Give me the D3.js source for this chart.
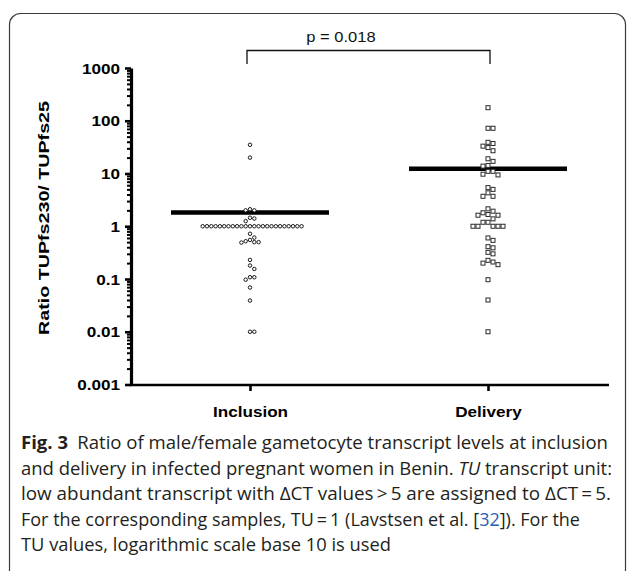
<!DOCTYPE html>
<html>
<head>
<meta charset="utf-8">
<script src="https://cdn.jsdelivr.net/npm/d3@7/dist/d3.min.js"></script>
<style>
  html, body { margin: 0; padding: 0; background: #fff; }
  svg { display: block; }
</style>
</head>
<body>
<svg id="chart" width="629" height="571"></svg>
<script>
// ---------------- DATA ----------------
const categories = ["Inclusion", "Delivery"];

const inclusionValues = [
  35, 20,
  2.1, 2.0, 2.0,
  1.45, 1.4, 1.25,
  1, 1, 1, 1, 1, 1, 1, 1, 1, 1, 1, 1, 1, 1, 1, 1, 1, 1, 1, 1, 1, 1, 1, 1,
  0.72, 0.61,
  0.55, 0.52, 0.5, 0.49, 0.5,
  0.23, 0.18, 0.155,
  0.108, 0.097, 0.108,
  0.069, 0.039,
  0.01, 0.01
];

const deliveryValues = [
  177,
  72, 72,
  39, 37, 33, 31, 27,
  19, 17,
  14.2, 13.8,
  11, 11, 9.7, 9.4,
  5.4, 5.0, 4.3, 3.7, 3.7,
  2.14, 1.93, 1.8, 1.67, 1.62, 1.62, 1.38,
  1.19, 1.19,
  1, 1, 1, 1, 1,
  0.6, 0.54,
  0.41, 0.39,
  0.32, 0.30,
  0.226, 0.21, 0.2, 0.187,
  0.097, 0.04, 0.01
];

const centralValues = [1.82, 12.3];   // horizontal bar per group

const yTickValues = [0.001, 0.01, 0.1, 1, 10, 100, 1000];
const yTickLabels = ["0.001", "0.01", "0.1", "1", "10", "100", "1000"];
const yTitle = "Ratio TUPfs230/ TUPfs25";
const pLabel = "p = 0.018";

const captionLines = [
  [{t: "Fig. 3", b: true}, {t: "\u2002Ratio of male/female gametocyte transcript levels at inclusion"}],
  [{t: "and delivery in infected pregnant women in Benin. "}, {t: "TU", i: true}, {t: " transcript unit:"}],
  [{t: "low abundant transcript with \u0394CT values\u2009>\u20095 are assigned to \u0394CT\u2009=\u20095."}],
  [{t: "For the corresponding samples, TU\u2009=\u20091 (Lavstsen et al. ["}, {t: "32", blue: true}, {t: "]). For the"}],
  [{t: "TU values, logarithmic scale base 10 is used"}]
];
const captionEnds = [608, 612, 611, 580, 391];

// ---------------- LAYOUT ----------------
const svg = d3.select("#chart");
const FONT = "'Liberation Sans', Arial, Helvetica, sans-serif";
const CAPFONT = "'Open Sans', 'Noto Sans', sans-serif";
const SX = 1.18; // horizontal stretch of chart text in the original figure

// frame
svg.append("rect")
  .attr("x", 9.5).attr("y", 13.5)
  .attr("width", 616).attr("height", 620)
  .attr("rx", 11).attr("ry", 11)
  .attr("fill", "none").attr("stroke", "#3a3a3a").attr("stroke-width", 1.2);

const y = d3.scaleLog().domain([0.001, 1000]).range([384.5, 68]);
const x = d3.scalePoint().domain(categories).range([131, 607]).padding(0.5);
const axisX = 131, axisY = 385;

// y axis - minor ticks
const minorTicks = y.ticks().filter(v => Math.abs(Math.log10(v) - Math.round(Math.log10(v))) > 1e-9);
const gMinor = svg.append("g").attr("transform", `translate(${axisX},0)`)
  .call(d3.axisLeft(y).tickValues(minorTicks).tickSize(4).tickSizeOuter(0).tickFormat(""));
gMinor.select(".domain").remove();
gMinor.selectAll(".tick line").attr("stroke", "#000").attr("stroke-width", 2);

// y axis - major ticks & labels
const gY = svg.append("g").attr("transform", `translate(${axisX},0)`)
  .call(d3.axisLeft(y).tickValues(yTickValues).tickSize(6).tickSizeOuter(0)
    .tickFormat((d) => yTickLabels[yTickValues.indexOf(d)]));
gY.select(".domain").attr("stroke", "#000").attr("stroke-width", 3.2);
gY.selectAll(".tick line").attr("stroke", "#000").attr("stroke-width", 2.6);
gY.selectAll(".tick text")
  .attr("font-family", FONT).attr("font-size", 14.5).attr("font-weight", "bold")
  .attr("fill", "#000")
  .attr("x", null).attr("dy", null).attr("y", 0)
  .attr("transform", `translate(-11,5) scale(${SX},1)`);

// x axis
const gX = svg.append("g").attr("transform", `translate(0,${axisY})`)
  .call(d3.axisBottom(x).tickSize(6).tickSizeOuter(0));
gX.select(".domain").attr("stroke", "#000").attr("stroke-width", 2.6)
  .attr("d", `M${axisX - 1.5},0H609`);
gX.selectAll(".tick line").attr("stroke", "#000").attr("stroke-width", 2.6);
gX.selectAll(".tick text")
  .attr("font-family", FONT).attr("font-size", 14.5).attr("font-weight", "bold")
  .attr("fill", "#000").attr("y", 0).attr("dy", null)
  .attr("transform", `translate(0,32) scale(${SX},1)`);

// y title
svg.append("text")
  .attr("transform", `translate(49,218) rotate(-90) scale(1.27,1)`)
  .attr("text-anchor", "middle")
  .attr("font-family", FONT).attr("font-size", 15.5).attr("font-weight", "bold")
  .attr("fill", "#000")
  .text(yTitle);

// ---------------- SWARM ----------------
function swarm(values, cx, d) {
  const items = values.map((v, i) => ({ v, i, py: y(v) }));
  const order = items.slice().sort((a, b) => a.py - b.py);
  const placed = [];
  order.forEach(p => {
    let k = 0, off = 0;
    while (true) {
      const cand = k === 0 ? 0 : (k % 2 === 1 ? Math.ceil(k / 2) : -Math.ceil(k / 2)) * d;
      const hit = placed.some(q => {
        const dx = q.px - (cx + cand), dy = q.py - p.py;
        return dx * dx + dy * dy < d * d * 0.97;
      });
      if (!hit) { off = cand; break; }
      k++;
    }
    p.px = cx + off;
    placed.push(p);
  });
  return placed;
}

const incPts = swarm(inclusionValues, x("Inclusion"), 4.3);
const delPts = swarm(deliveryValues, x("Delivery"), 5);

// central bars
svg.append("g").selectAll("line").data(categories).join("line")
  .attr("x1", d => x(d) - 79).attr("x2", d => x(d) + 79)
  .attr("y1", (d, i) => y(centralValues[i])).attr("y2", (d, i) => y(centralValues[i]))
  .attr("stroke", "#000").attr("stroke-width", 4.5);

svg.append("g").selectAll("circle").data(incPts).join("circle")
  .attr("cx", d => d.px).attr("cy", d => d.py).attr("r", 1.75)
  .attr("fill", "#fff").attr("stroke", "#1a1a1a").attr("stroke-width", 1);

svg.append("g").selectAll("rect").data(delPts).join("rect")
  .attr("x", d => d.px - 2).attr("y", d => d.py - 2)
  .attr("width", 4).attr("height", 4)
  .attr("fill", "#fff").attr("stroke", "#2a2a2a").attr("stroke-width", 1);

// significance bracket
const bx1 = x("Inclusion") - 3, bx2 = x("Delivery") + 2;
svg.append("path")
  .attr("d", `M${bx1},64V50.5H${bx2}V64`)
  .attr("fill", "none").attr("stroke", "#111").attr("stroke-width", 1.3);
svg.append("text")
  .attr("transform", `translate(341,42) scale(${SX},1)`)
  .attr("text-anchor", "middle")
  .attr("font-family", FONT).attr("font-size", 14).attr("fill", "#111")
  .text(pLabel);

// ---------------- CAPTION ----------------
const capX = 21, capY0 = 449, capDY = 25.5;
captionLines.forEach((parts, li) => {
  const t = svg.append("text")
    .attr("x", capX).attr("y", capY0 + li * capDY)
    .attr("font-family", CAPFONT).attr("font-size", 18).attr("fill", "#231f20");
  parts.forEach(p => {
    t.append("tspan")
      .attr("font-weight", p.b ? "bold" : null)
      .attr("font-style", p.i ? "italic" : null)
      .attr("fill", p.blue ? "#2b5fb4" : null)
      .text(p.t);
  });
  t.attr("textLength", captionEnds[li] - capX).attr("lengthAdjust", "spacingAndGlyphs");
});
</script>
</body>
</html>
